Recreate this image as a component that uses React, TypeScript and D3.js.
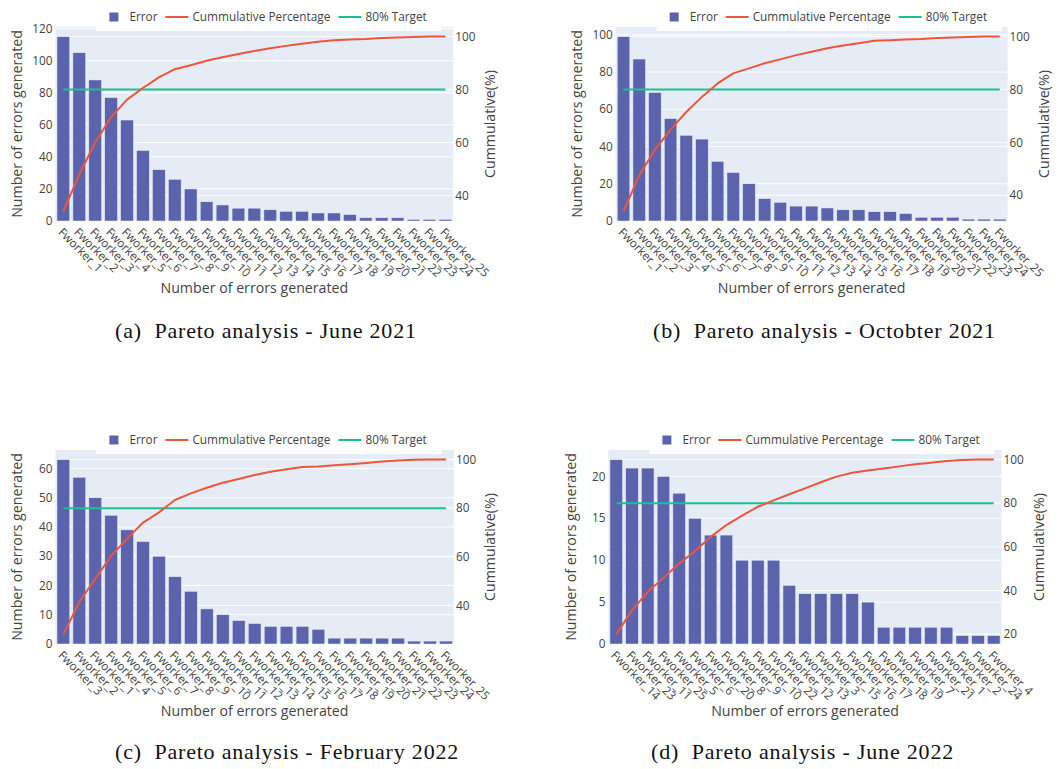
import React from "react";
import * as d3 from "d3";

// ---------------- DATA ----------------
const workersA = ["Fworker_1","Fworker_2","Fworker_3","Fworker_4","Fworker_5","Fworker_6","Fworker_7","Fworker_8","Fworker_9","Fworker_10","Fworker_11","Fworker_12","Fworker_13","Fworker_14","Fworker_15","Fworker_16","Fworker_17","Fworker_18","Fworker_19","Fworker_20","Fworker_21","Fworker_22","Fworker_23","Fworker_24","Fworker_25"];
const errorsA = [115,105,88,77,63,44,32,26,20,12,10,8,8,7,6,6,5,5,4,2,2,2,1,1,1];
const cumA = [34,48,60,69.6,76.2,80.6,84.6,87.7,89.2,90.9,92.2,93.4,94.6,95.6,96.5,97.3,98.1,98.6,98.9,99.1,99.5,99.7,99.9,100,100];
const leftTicksA = [0,20,40,60,80,100,120];
const rightTicksA = [40,60,80,100];

const workersB = ["Fworker_1","Fworker_2","Fworker_3","Fworker_4","Fworker_5","Fworker_6","Fworker_7","Fworker_8","Fworker_9","Fworker_10","Fworker_11","Fworker_12","Fworker_13","Fworker_14","Fworker_15","Fworker_16","Fworker_17","Fworker_18","Fworker_19","Fworker_20","Fworker_21","Fworker_22","Fworker_23","Fworker_24","Fworker_25"];
const errorsB = [99,87,69,55,46,44,32,26,20,12,10,8,8,7,6,6,5,5,4,2,2,2,1,1,1];
const cumB = [33.9,47.5,57.2,64.8,71.5,77.2,82.3,86.1,88,89.9,91.4,93,94.3,95.6,96.6,97.5,98.4,98.6,98.9,99.1,99.5,99.7,99.9,100,100];
const leftTicksB = [0,20,40,60,80,100];
const rightTicksB = [40,60,80,100];

const workersC = ["Fworker_3","Fworker_2","Fworker_1","Fworker_4","Fworker_5","Fworker_6","Fworker_7","Fworker_8","Fworker_9","Fworker_10","Fworker_11","Fworker_12","Fworker_13","Fworker_14","Fworker_15","Fworker_16","Fworker_17","Fworker_18","Fworker_19","Fworker_20","Fworker_21","Fworker_22","Fworker_23","Fworker_24","Fworker_25"];
const errorsC = [63,57,50,44,39,35,30,23,18,12,10,8,7,6,6,6,5,2,2,2,2,2,1,1,1];
const cumC = [28.1,41.4,51,60.4,67.5,74.1,78.3,83.4,86.1,88.4,90.5,92,93.7,95,96,97,97.2,97.7,98.1,98.6,99.2,99.6,99.9,100,100];
const leftTicksC = [0,10,20,30,40,50,60];
const rightTicksC = [40,60,80,100];

const workersD = ["Fworker_14","Fworker_23","Fworker_11","Fworker_25","Fworker_5","Fworker_6","Fworker_20","Fworker_8","Fworker_9","Fworker_10","Fworker_22","Fworker_12","Fworker_13","Fworker_3","Fworker_15","Fworker_16","Fworker_17","Fworker_18","Fworker_19","Fworker_7","Fworker_21","Fworker_1","Fworker_2","Fworker_24","Fworker_4"];
const errorsD = [22,21,21,20,18,15,13,13,10,10,10,7,6,6,6,6,5,2,2,2,2,2,1,1,1];
const cumD = [19.9,30.9,39.4,45.8,52.4,58,64.6,70,74.3,78.4,81.3,84.1,86.8,89.6,92.2,94,95,95.9,96.9,97.9,98.6,99.4,99.8,100,100];
const leftTicksD = [0,5,10,15,20];
const rightTicksD = [20,40,60,80,100];

const targetValue = 80;
const legendLabels = ["Error", "Cummulative Percentage", "80% Target"];
const xTitle = "Number of errors generated";
const yLeftTitle = "Number of errors generated";
const yRightTitle = "Cummulative(%)";
const captions = [
  "(a)  Pareto analysis - June 2021",
  "(b)  Pareto analysis - Octobter 2021",
  "(c)  Pareto analysis - February 2022",
  "(d)  Pareto analysis - June 2022",
];

// ---------------- STYLE ----------------
const BAR = "#5b63ad";
const RED = "#ef553b";
const GREEN = "#1fbf8f";
const BG = "#e5ecf6";
const TXT = "#444";
const FONT = "'Open Sans', sans-serif";
const SMALL = 11.8;
const TITLE = 14.2;

type Spec = {
  labels: string[];
  values: number[];
  cum: number[];
  leftTicks: number[];
  rightTicks: number[];
  left: number;
  right: number;
  top: number;
  bottom: number;
  yTitleX: number;
  rTitleX: number;
  caption: string;
  capX: number;
  capY: number;
};

function Panel({ s }: { s: Spec }) {
  const x = d3.scaleBand<string>().domain(s.labels).range([s.left, s.right]).paddingInner(0.2).paddingOuter(0.1);
  const yMax = (d3.max(s.values) as number) * 1.0526;
  const yL = d3.scaleLinear().domain([0, yMax]).range([s.bottom, s.top]);
  const cMin = d3.min(s.cum) as number;
  const cMax = d3.max(s.cum) as number;
  const pad = (cMax - cMin) * 0.055;
  const yR = d3.scaleLinear().domain([cMin - pad, cMax + pad]).range([s.bottom, s.top]);
  const cx = (l: string) => (x(l) as number) + x.bandwidth() / 2;
  const line = d3.line<number>().x((_, i) => cx(s.labels[i])).y((d) => yR(d));
  const midY = (s.top + s.bottom) / 2;
  const midX = (s.left + s.right) / 2;
  const L = s.left;
  const legY = s.top - 10;
  return (
    <g>
      <rect x={s.left} y={s.top} width={s.right - s.left} height={s.bottom - s.top} fill={BG} />
      {s.rightTicks.map((t) => (
        <line key={"rg" + t} x1={s.left} x2={s.right} y1={yR(t)} y2={yR(t)} stroke="#fff" strokeWidth={1} />
      ))}
      {s.leftTicks.map((t) => (
        <line key={"lg" + t} x1={s.left} x2={s.right} y1={yL(t)} y2={yL(t)} stroke="#fff" strokeWidth={t === 0 ? 2 : 1} />
      ))}
      {/* legend box */}
      <rect x={L + 41} y={s.top - 24} width={345} height={28} fill="#fff" />
      {s.values.map((v, i) => (
        <rect key={"b" + i} x={x(s.labels[i])} y={yL(v)} width={x.bandwidth()} height={yL(0) - yL(v)} fill={BAR} stroke={BG} strokeWidth={0.5} />
      ))}
      <line x1={cx(s.labels[0])} x2={cx(s.labels[s.labels.length - 1])} y1={yR(targetValue)} y2={yR(targetValue)} stroke={GREEN} strokeWidth={2} />
      <path d={line(s.cum) as string} fill="none" stroke={RED} strokeWidth={2} strokeLinejoin="round" />
      {/* left ticks */}
      {s.leftTicks.map((t) => (
        <text key={"lt" + t} x={s.left - 3} y={yL(t)} dy="0.35em" textAnchor="end" fontSize={SMALL} fill={TXT} fontFamily={FONT}>{t}</text>
      ))}
      {s.rightTicks.map((t) => (
        <text key={"rt" + t} x={s.right + 2} y={yR(t)} dy="0.35em" textAnchor="start" fontSize={SMALL} fill={TXT} fontFamily={FONT}>{t}</text>
      ))}
      {/* x tick labels */}
      {s.labels.map((l) => (
        <text key={"xt" + l} transform={`translate(${cx(l) - 3},${s.bottom + 9}) rotate(45)`} dy="0.35em" textAnchor="start" fontSize={SMALL} fill={TXT} fontFamily={FONT}>{l}</text>
      ))}
      <text x={midX} y={s.bottom + 71.5} textAnchor="middle" fontSize={TITLE} fill={TXT} fontFamily={FONT}>{xTitle}</text>
      <text transform={`translate(${s.yTitleX},${midY}) rotate(-90)`} dy="0.35em" textAnchor="middle" fontSize={TITLE} fill={TXT} fontFamily={FONT}>{yLeftTitle}</text>
      <text transform={`translate(${s.rTitleX},${midY}) rotate(-90)`} dy="0.35em" textAnchor="middle" fontSize={TITLE} fill={TXT} fontFamily={FONT}>{yRightTitle}</text>
      {/* legend */}
      <rect x={L + 54} y={legY - 4.5} width={9} height={9} fill={BAR} />
      <text x={L + 74} y={legY} dy="0.35em" fontSize={SMALL} fill={TXT} fontFamily={FONT}>{legendLabels[0]}</text>
      <line x1={L + 110} x2={L + 133} y1={legY} y2={legY} stroke={RED} strokeWidth={2} />
      <text x={L + 137} y={legY} dy="0.35em" fontSize={SMALL} fill={TXT} fontFamily={FONT}>{legendLabels[1]}</text>
      <line x1={L + 283} x2={L + 306} y1={legY} y2={legY} stroke={GREEN} strokeWidth={2} />
      <text x={L + 310} y={legY} dy="0.35em" fontSize={SMALL} fill={TXT} fontFamily={FONT}>{legendLabels[2]}</text>
      {/* caption */}
      <text x={s.capX} y={s.capY} fontSize={22} letterSpacing={0.8} fill="#111" fontFamily="'Liberation Serif', serif" style={{ whiteSpace: "pre" }}>{s.caption}</text>
    </g>
  );
}

const specs: Spec[] = [
  { labels: workersA, values: errorsA, cum: cumA, leftTicks: leftTicksA, rightTicks: rightTicksA, left: 55.4, right: 453.3, top: 27, bottom: 221, yTitleX: 17.5, rTitleX: 490, caption: captions[0], capX: 115, capY: 338 },
  { labels: workersB, values: errorsB, cum: cumB, leftTicks: leftTicksB, rightTicks: rightTicksB, left: 615.7, right: 1007.6, top: 27, bottom: 221, yTitleX: 577, rTitleX: 1044, caption: captions[1], capX: 653, capY: 338 },
  { labels: workersC, values: errorsC, cum: cumC, leftTicks: leftTicksC, rightTicks: rightTicksC, left: 55.4, right: 453.9, top: 450, bottom: 644, yTitleX: 17, rTitleX: 490, caption: captions[2], capX: 115, capY: 759 },
  { labels: workersD, values: errorsD, cum: cumD, leftTicks: leftTicksD, rightTicks: rightTicksD, left: 608.4, right: 1001.6, top: 450, bottom: 644, yTitleX: 571, rTitleX: 1039, caption: captions[3], capX: 651, capY: 759 },
];

export default function App() {
  return (
    <svg width={1059} height={769} style={{ position: "absolute", left: 0, top: 0, background: "#fff" }}>
      <rect x={0} y={0} width={1059} height={769} fill="#fff" />
      {specs.map((s, i) => (
        <Panel key={i} s={s} />
      ))}
    </svg>
  );
}
